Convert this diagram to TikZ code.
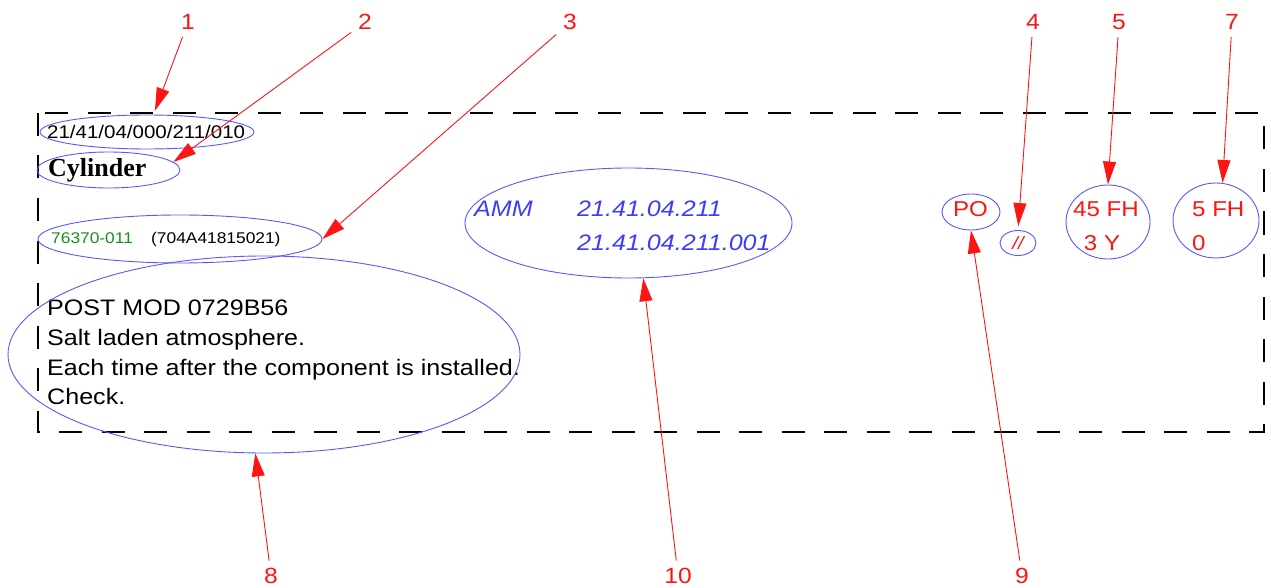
\documentclass[tikz,border=0pt]{standalone}
\usepackage{fontspec}
\setmainfont{Liberation Sans}[FakeStretch=1.12]
\newfontfamily\titlefont{Liberation Serif}
\usetikzlibrary{shapes.geometric,arrows.meta}

\definecolor{ringblue}{RGB}{88,88,255}
\definecolor{textblue}{RGB}{60,60,250}
\definecolor{partgreen}{RGB}{30,140,30}
\definecolor{callred}{RGB}{255,20,20}

\begin{document}
\begin{tikzpicture}[x=1pt,y=-1pt,
	ring/.style={draw=ringblue,line width=0.9pt,ellipse,inner sep=0pt},
	pointer/.style={draw=callred,line width=0.9pt,-{Triangle[length=23pt,width=13pt]}},
	num/.style={text=callred,font=\fontsize{22}{26}\selectfont,inner sep=0pt,outer sep=7pt,anchor=base},
	txt/.style={inner sep=0pt,anchor=base west},
	redtxt/.style={txt,text=callred,font=\fontsize{21.5}{26}\selectfont},
	amm/.style={txt,text=textblue,font=\fontsize{22.4}{26}\selectfont\itshape}]
	\useasboundingbox (0,0) rectangle (1271,588);
	\draw[line width=1.3pt,dash pattern=on 23pt off 19.5pt] (38,113) rectangle (1264,432);
	
	\node[txt,font=\fontsize{18.3}{22}\selectfont] (code) at (47,139) {21/41/04/000/211/010};
	\node[ring,minimum width=214pt,minimum height=34pt] (e1) at (147,132) {};
	
	\node[txt,font=\fontsize{26}{30}\selectfont\titlefont\bfseries] (name) at (48,177) {Cylinder};
	\node[ring,minimum width=143pt,minimum height=36pt] (e2) at (108.5,170) {};
	
	\node[txt,text=partgreen,font=\fontsize{15.5}{19}\selectfont] (pn) at (51,243) {76370-011};
	\node[txt,font=\fontsize{15.5}{19}\selectfont] (alt) at (151,243) {(704A41815021)};
	\node[ring,minimum width=284pt,minimum height=48pt] (e3) at (180,239) {};
	
	\node[txt,font=\fontsize{22.4}{26}\selectfont] (m1) at (47,315) {POST MOD 0729B56};
	\node[txt,font=\fontsize{22.4}{26}\selectfont] (m2) at (47,345) {Salt laden atmosphere.};
	\node[txt,font=\fontsize{22.4}{26}\selectfont] (m3) at (47,375) {Each time after the component is installed.};
	\node[txt,font=\fontsize{22.4}{26}\selectfont] (m4) at (47,404) {Check.};
	\node[ring,minimum width=512pt,minimum height=197pt] (e8) at (264,354.5) {};
	
	\node[amm] (ammlbl) at (474,217) {AMM};
	\node[amm] (ref1) at (577,217) {21.41.04.211};
	\node[amm] (ref2) at (577,250) {21.41.04.211.001};
	\node[ring,minimum width=327pt,minimum height=110pt] (e10) at (628.5,223) {};
	
	\node[redtxt,anchor=base] (po) at (970.5,217) {PO};
	\node[ring,minimum width=58pt,minimum height=36pt] (e9) at (971,212) {};
	
	\node[redtxt,anchor=base,font=\fontsize{18}{22}\selectfont\itshape] (sl) at (1018,249) {//};
	\node[ring,minimum width=36pt,minimum height=25pt] (e4) at (1018,243) {};
	
	\node[redtxt,anchor=base] (h1) at (1106,217) {45 FH};
	\node[redtxt,anchor=base] (h2) at (1102,250) {3 Y};
	\node[ring,minimum width=84pt,minimum height=74pt] (e5) at (1108,222) {};
	
	\node[redtxt] (f1) at (1192,217) {5 FH};
	\node[redtxt] (f2) at (1192,250) {0};
	\node[ring,minimum width=86pt,minimum height=75pt] (e7) at (1216,220.5) {};
	
	\node[num] (n1) at (188,30) {1};
	\node[num] (n2) at (365,30) {2};
	\node[num] (n3) at (570,30) {3};
	\node[num] (n4) at (1033,30) {4};
	\node[num] (n5) at (1119,30) {5};
	\node[num] (n7) at (1232,30) {7};
	\node[num] (n8) at (271,583) {8};
	\node[num] (n10) at (678,583) {10};
	\node[num] (n9) at (1022,583) {9};
	
	\draw[pointer,shorten >=4pt] (n1) -- (e1);
	\draw[pointer] (n2) -- (e2.7);
	\draw[pointer] (n3) -- (e3.east);
	\draw[pointer,shorten >=4pt] (n4) -- (e4.north);
	\draw[pointer] (n5) -- (e5.north);
	\draw[pointer] (n7) -- (e7.80);
	\draw[pointer] (n8) -- (e8.265);
	\draw[pointer] (n10) -- (e10.-75);
	\draw[pointer] (n9) -- (e9.south);
\end{tikzpicture}
\end{document}
